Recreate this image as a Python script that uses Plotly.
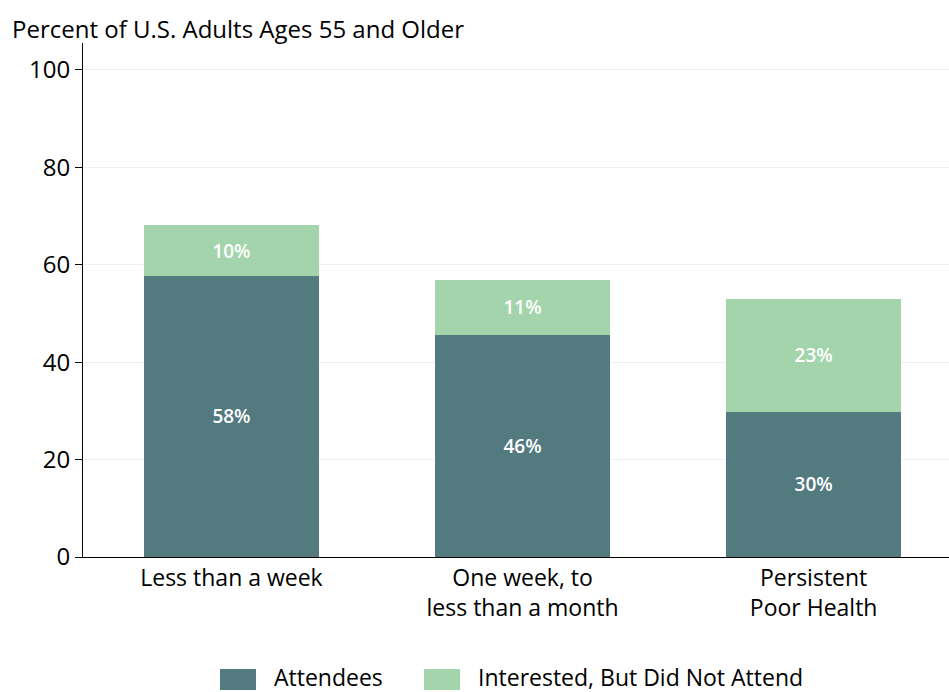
import plotly.graph_objects as go

# Дані
categories = ["Less than a week", "One week, to<br>less than a month", "Persistent<br>Poor Health"]
attendees = [57.7, 45.6, 29.8]
interested = [10.4, 11.3, 23.2]
attendees_labels = ["58%", "46%", "30%"]
interested_labels = ["10%", "11%", "23%"]
series_names = ["Attendees", "Interested, But Did Not Attend"]
series_colors = ["#537a7f", "#a3d4ab"]

FONT = "Open Sans"
PLOT_L, PLOT_W, PLOT_B, PLOT_H = 83, 866, 557, 514


def px_x(px):
    """Пікселі -> координати paper по горизонталі."""
    return (px - PLOT_L) / PLOT_W


def px_y(py):
    """Пікселі -> координати paper по вертикалі."""
    return (PLOT_B - py) / PLOT_H


fig = go.Figure()
for vals, labels, name, color in [(attendees, attendees_labels, series_names[0], series_colors[0]),
                                  (interested, interested_labels, series_names[1], series_colors[1])]:
    fig.add_trace(go.Bar(
        x=categories, y=vals, name=name, showlegend=False,
        marker=dict(color=color, line=dict(width=0)), width=0.6,
        text=labels, textposition="inside", insidetextanchor="middle",
        textfont=dict(color="white", size=19, family=FONT, weight=600),
        hoverinfo="skip",
    ))

# Легенда вручну: великі прямокутники, як в оригіналі
legend_items = [(220, 272), (424, 476)]
shapes, annotations = [], []
for (sx, tx), name, color in zip(legend_items, series_names, series_colors):
    shapes.append(dict(type="rect", xref="paper", yref="paper",
                       x0=px_x(sx), x1=px_x(sx + 36), y0=px_y(690), y1=px_y(669),
                       fillcolor=color, line=dict(width=0)))
    annotations.append(dict(text=name, xref="paper", yref="paper",
                            x=px_x(tx), y=px_y(677), xanchor="left", yanchor="middle",
                            showarrow=False, font=dict(size=23, family=FONT)))

annotations.append(dict(
    text="Percent of U.S. Adults Ages 55 and Older",
    xref="paper", yref="paper", x=px_x(10), y=px_y(28),
    xanchor="left", yanchor="middle", showarrow=False,
    font=dict(size=24, family=FONT),
))

fig.update_layout(
    barmode="stack",
    width=949, height=692,
    margin=dict(l=83, r=0, t=43, b=135, autoexpand=False),
    paper_bgcolor="white", plot_bgcolor="white",
    font=dict(family=FONT, size=24, color="black"),
    showlegend=False,
    shapes=shapes,
    annotations=annotations,
    xaxis=dict(range=[-0.51, 2.465], showline=True, linecolor="black", linewidth=1,
               ticks="", showgrid=False, tickfont=dict(size=23), automargin=False),
    yaxis=dict(range=[0, 105.5], tickvals=[0, 20, 40, 60, 80, 100], showline=True,
               linecolor="black", linewidth=1, ticks="outside", ticklen=7,
               tickcolor="black", showgrid=True, gridcolor="#e8f1f4", zeroline=False,
               tickfont=dict(size=24), automargin=False),
)

fig.write_html("out.html", config={"displayModeBar": False},
               post_script="document.body.style.margin='0';")
